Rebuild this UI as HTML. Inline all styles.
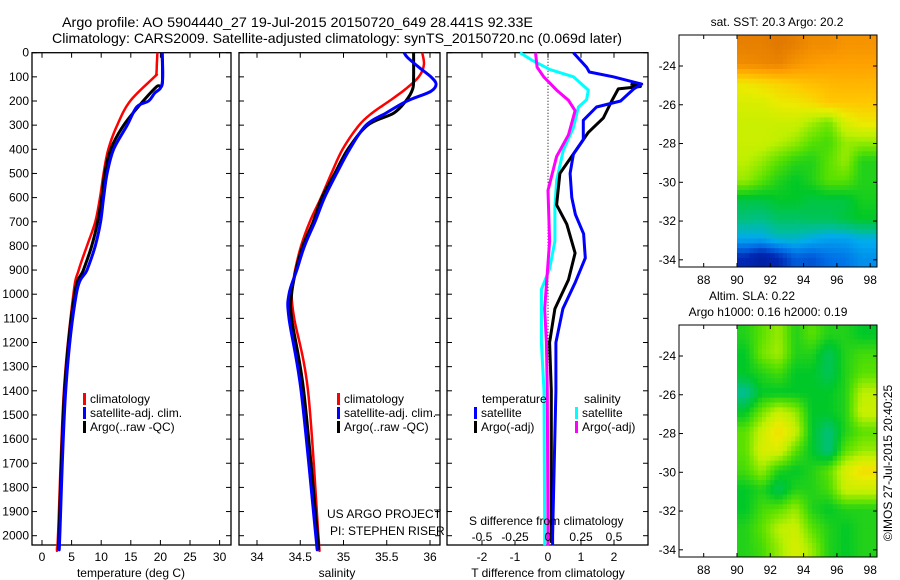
<!DOCTYPE html>
<html><head><meta charset="utf-8">
<style>
html,body{margin:0;padding:0;background:#fff;}
svg{display:block;font-family:"Liberation Sans",Arial,sans-serif;}
text{fill:#000;}
</style></head>
<body>
<svg id="fig" width="900" height="580" viewBox="0 0 900 580" xmlns="http://www.w3.org/2000/svg">
<text x="62" y="27" font-size="14" textLength="471" lengthAdjust="spacingAndGlyphs">Argo profile: AO 5904440_27 19-Jul-2015 20150720_649 28.441S 92.33E</text>
<text x="52" y="43" font-size="14" textLength="570" lengthAdjust="spacingAndGlyphs">Climatology: CARS2009. Satellite-adjusted climatology: synTS_20150720.nc (0.069d later)</text>
<g id="layer"></g>
</svg>
<script>
// ---------- data ----------
const depthTicks = [0,100,200,300,400,500,600,700,800,900,1000,1100,1200,1300,1400,1500,1600,1700,1800,1900,2000];
const tempTicks = [0,5,10,15,20,25,30];
const salTicks = [34,34.5,35,35.5,36];
const diffTTicks = [-2,-1,0,1,2];
const diffSTicks = [-0.5,-0.25,0,0.25,0.5];
const lonTicks = [88,90,92,94,96,98];
const latTicks = [-24,-26,-28,-30,-32,-34];

const tempClimDepth = [0,50,90,100,200,300,400,500,600,700,800,900,1000,1400,2000,2050];
const tempClim = [19.5,19.4,19.3,19.0,14.9,12.7,11.2,10.4,9.8,9.0,7.6,6.2,5.3,3.7,2.7,2.5];
const tempSatDepth = [0,129,168,200,225,300,400,500,600,700,800,900,1000,1400,2000,2040];
const tempSat = [20.3,20.3,19.0,18.0,16.0,14.4,12.1,11.0,10.4,9.9,9.0,7.6,5.8,4.0,3.0,2.95];
const tempArgoDepth = [0,130,140,200,300,400,500,600,700,800,900,1000,1400,2000,2030];
const tempArgo = [20.3,20.3,19.4,17.1,13.8,11.6,10.6,10.1,9.4,8.4,7.0,5.5,3.8,2.85,2.8];

const salClimDepth = [0,50,100,150,200,250,300,400,500,600,700,800,900,950,1000,1100,1400,2000,2050];
const salClim = [35.91,35.93,35.87,35.72,35.53,35.33,35.18,34.99,34.86,34.74,34.61,34.51,34.44,34.42,34.40,34.43,34.59,34.71,34.72];
const salSatDepth = [0,20,60,100,130,160,190,210,250,300,400,500,600,700,800,900,1000,1100,1400,2000,2040];
const salSat = [35.70,35.74,35.87,36.01,36.07,36.01,35.80,35.68,35.49,35.26,35.07,34.92,34.78,34.67,34.55,34.46,34.37,34.37,34.51,34.68,34.69];
const salArgoDepth = [0,100,150,200,250,300,400,500,600,700,800,900,1000,1100,1400,2000,2030];
const salArgo = [35.81,35.81,35.80,35.72,35.58,35.28,35.05,34.90,34.75,34.65,34.53,34.45,34.40,34.40,34.54,34.70,34.70];

const dTSatDepth = [0,60,80,100,130,150,200,225,280,360,420,500,600,670,750,850,950,1060,1200,1400,2000,2040];
const dTSat = [0.77,1.17,1.25,1.98,2.84,2.6,2.2,1.47,1.07,1.07,0.77,0.67,0.72,0.83,1.08,1.13,0.83,0.45,0.24,0.24,0.14,0.14];
const dTArgoDepth = [130,140,150,200,270,330,380,500,630,710,830,940,1060,1200,1400,2000,2030];
const dTArgo = [2.5,2.8,2.13,1.93,1.68,1.22,0.97,0.36,0.26,0.57,0.82,0.62,0.21,0.05,0.1,0.1,0.1];
const dSSatDepth = [0,30,70,100,155,195,225,310,405,530,640,780,895,980,1200,1400,2000,2040];
const dSSat = [-0.85,-0.5,0.06,0.77,1.22,1.17,0.92,0.77,0.46,0.26,0.21,0.21,0.05,-0.2,-0.2,-0.12,-0.1,-0.1];
const dSArgoDepth = [0,60,100,155,197,240,340,430,570,780,1060,1200,1400,2000,2040];
const dSArgo = [-0.38,-0.33,-0.13,0.26,0.62,0.82,0.62,0.26,0.0,0.05,-0.1,-0.05,-0.02,0.0,0.0];

const sstGrid = [
 [0.88,0.88,0.9,0.88,0.85,0.85,0.83,0.83],
 [0.85,0.86,0.87,0.83,0.81,0.8,0.8,0.8],
 [0.66,0.68,0.7,0.72,0.74,0.75,0.76,0.76],
 [0.62,0.62,0.65,0.66,0.68,0.72,0.72,0.72],
 [0.6,0.6,0.6,0.6,0.56,0.52,0.62,0.66],
 [0.6,0.6,0.58,0.55,0.5,0.48,0.55,0.55],
 [0.58,0.55,0.5,0.46,0.45,0.5,0.55,0.45],
 [0.55,0.5,0.45,0.42,0.45,0.5,0.5,0.45],
 [0.4,0.4,0.42,0.42,0.4,0.4,0.4,0.44],
 [0.35,0.34,0.37,0.37,0.38,0.38,0.4,0.42],
 [0.27,0.27,0.3,0.3,0.28,0.26,0.26,0.28],
 [0.12,0.07,0.12,0.18,0.17,0.2,0.21,0.24]
];
const slaGrid = [
 [0.45,0.5,0.55,0.45,0.5,0.45,0.45,0.42],
 [0.42,0.52,0.56,0.45,0.45,0.38,0.45,0.48],
 [0.42,0.45,0.48,0.42,0.42,0.38,0.45,0.5],
 [0.33,0.42,0.42,0.42,0.42,0.42,0.45,0.58],
 [0.42,0.52,0.6,0.55,0.42,0.42,0.45,0.6],
 [0.5,0.6,0.68,0.6,0.42,0.35,0.45,0.5],
 [0.5,0.62,0.62,0.5,0.42,0.35,0.5,0.55],
 [0.48,0.55,0.45,0.42,0.45,0.5,0.62,0.68],
 [0.42,0.45,0.38,0.45,0.45,0.48,0.6,0.6],
 [0.42,0.48,0.5,0.55,0.45,0.42,0.45,0.45],
 [0.45,0.5,0.58,0.6,0.5,0.45,0.42,0.45],
 [0.45,0.48,0.55,0.62,0.55,0.45,0.42,0.45]
];

// ---------- drawing ----------
const NS='http://www.w3.org/2000/svg';
const L=document.getElementById('layer');
function mk(tag,attrs,parent){const e=document.createElementNS(NS,tag);for(const k in attrs)e.setAttribute(k,attrs[k]);(parent||L).appendChild(e);return e;}
function txt(x,y,s,anchor,size){const t=mk('text',{x:x,y:y,'font-size':size||12,'text-anchor':anchor||'start'});t.textContent=s;return t;}

const TOP=52.7, BOT=545;
const yD=d=>TOP+d*0.2415;
const panels=[
 {name:'temperature-panel',x0:32,x1:231,fx:v=>42+5.92*v},
 {name:'salinity-panel',x0:239,x1:440,fx:v=>257+86.5*(v-34)},
 {name:'difference-panel',x0:447,x1:648,fx:v=>548+33*v}
];
panels.forEach((p,i)=>{
 const g=mk('g',{});
 
 
 const r=mk('rect',{x:p.x0,y:TOP,width:p.x1-p.x0,height:BOT-TOP,fill:'none',stroke:'#000','stroke-width':1.3},g);
 
 
 depthTicks.forEach(d=>{
  const y=yD(d);
  mk('line',{x1:p.x0,x2:p.x0+5,y1:y,y2:y,stroke:'#000'},g);
  mk('line',{x1:p.x1,x2:p.x1-5,y1:y,y2:y,stroke:'#000'},g);
 });
 p.g=g;
});
depthTicks.forEach(d=>{const t=txt(29,yD(d)+4,String(d),'end',12);
 
 });

function xticks(p,ticks,fx,ylab){
 ticks.forEach((v,i)=>{const x=fx(v);
  mk('line',{x1:x,x2:x,y1:TOP,y2:TOP+5,stroke:'#000'},p.g);
  mk('line',{x1:x,x2:x,y1:BOT,y2:BOT-5,stroke:'#000'},p.g);
  const t=txt(x,ylab,String(v),'middle',12);
  
  
 });
}
xticks(panels[0],tempTicks,panels[0].fx,561);
xticks(panels[1],salTicks,panels[1].fx,561);
xticks(panels[2],diffTTicks,panels[2].fx,561);
diffSTicks.forEach(v=>{const x=panels[2].fx(v*4);const t=txt(x,541,String(v),'middle',12);
 
 });

function line(p,ds,vs,color,w,name,smooth){
 const P=ds.map((d,i)=>[p.fx(vs[i]),yD(d)]);
 let dstr='M'+P[0][0].toFixed(1)+','+P[0][1].toFixed(1);
 for(let i=0;i<P.length-1;i++){
  if(smooth){
   const p0=P[Math.max(0,i-1)],p1=P[i],p2=P[i+1],p3=P[Math.min(P.length-1,i+2)];
   const c1=[p1[0]+(p2[0]-p0[0])/6,p1[1]+(p2[1]-p0[1])/6];
   const c2=[p2[0]-(p3[0]-p1[0])/6,p2[1]-(p3[1]-p1[1])/6];
   dstr+=' C'+c1.map(v=>v.toFixed(1)).join(',')+' '+c2.map(v=>v.toFixed(1)).join(',')+' '+p2[0].toFixed(1)+','+p2[1].toFixed(1);
  } else dstr+=' L'+P[i+1][0].toFixed(1)+','+P[i+1][1].toFixed(1);
 }
 const e=mk('path',{d:dstr,fill:'none',stroke:color,'stroke-width':w,'stroke-linejoin':'round'},p.g);
 
 
}
line(panels[0],tempClimDepth,tempClim,'#f00',2.5,'temp-climatology-line',true);
line(panels[0],tempArgoDepth,tempArgo,'#000',3,'temp-argo-line',true);
line(panels[0],tempSatDepth,tempSat,'#00f',3,'temp-satellite-line',true);
line(panels[1],salClimDepth,salClim,'#f00',2.5,'sal-climatology-line',true);
line(panels[1],salArgoDepth,salArgo,'#000',3,'sal-argo-line',true);
line(panels[1],salSatDepth,salSat,'#00f',3,'sal-satellite-line',true);
const zl=mk('line',{x1:548,x2:548,y1:TOP,y2:BOT,stroke:'#000','stroke-dasharray':'1,2'},panels[2].g);


line(panels[2],dSSatDepth,dSSat,'#0ff',3,'s-diff-satellite-line',false);
line(panels[2],dSArgoDepth,dSArgo,'#f0f',3,'s-diff-argo-line',false);
line(panels[2],dTArgoDepth,dTArgo,'#000',3,'t-diff-argo-line',false);
line(panels[2],dTSatDepth,dTSat,'#00f',3,'t-diff-satellite-line',false);

function leg(x,y,color,label,name){
 const g=mk('g',{});
 
 
 mk('rect',{x:x,y:y-10,width:3,height:12,fill:color},g);
 const t=mk('text',{x:x+7,y:y,'font-size':12},g);t.textContent=label;
}
leg(83,403,'#f00','climatology','legend-climatology');
leg(83,417,'#00f','satellite-adj. clim.','legend-satellite');
leg(83,431,'#000','Argo(..raw -QC)','legend-argo');
leg(337,403,'#f00','climatology','legend-sal-climatology');
leg(337,417,'#00f','satellite-adj. clim.','legend-sal-satellite');
leg(337,431,'#000','Argo(..raw -QC)','legend-sal-argo');
txt(482,403,'temperature','start',12);
txt(584,403,'salinity','start',12);
leg(474,417,'#00f','satellite','legend-tdiff-satellite');
leg(474,431,'#000','Argo(-adj)','legend-tdiff-argo');
leg(575,417,'#0ff','satellite','legend-sdiff-satellite');
leg(575,431,'#f0f','Argo(-adj)','legend-sdiff-argo');
txt(327,518,'US ARGO PROJECT','start',12);
txt(330,535,'PI: STEPHEN RISER','start',12);
txt(469,525,'S difference from climatology','start',12);
txt(131,577,'temperature (deg C)','middle',12);
txt(337,577,'salinity','middle',12);
txt(548,577,'T difference from climatology','middle',12);

// maps
const stops=[[0,[0,20,140]],[0.12,[0,40,180]],[0.2,[0,110,230]],[0.27,[0,170,240]],[0.33,[0,190,150]],[0.42,[0,200,40]],[0.5,[90,225,0]],[0.58,[190,240,0]],[0.65,[235,235,0]],[0.72,[255,200,0]],[0.8,[255,160,0]],[0.9,[225,120,0]],[1,[200,90,0]]];
function cmap(v){for(let i=1;i<stops.length;i++){if(v<=stops[i][0]){const a=stops[i-1],b=stops[i],t=(v-a[0])/(b[0]-a[0]);const c=a[1].map((x,k)=>Math.round(x+(b[1][k]-x)*t));return 'rgb('+c.join(',')+')';}}return 'rgb(200,90,0)';}
function sample(grid,fr,fc){
 const R=grid.length,C=grid[0].length;
 fr=Math.max(0,Math.min(R-1,fr));fc=Math.max(0,Math.min(C-1,fc));
 const r0=Math.floor(fr),c0=Math.floor(fc),r1=Math.min(R-1,r0+1),c1=Math.min(C-1,c0+1);
 const tr=fr-r0,tc=fc-c0;
 return (grid[r0][c0]*(1-tc)+grid[r0][c1]*tc)*(1-tr)+(grid[r1][c0]*(1-tc)+grid[r1][c1]*tc)*tr;
}
const MX0=679,MX1=877;
const lonX=lon=>737+16.65*(lon-90);
function drawMap(top,grid,name){
 const g=mk('g',{});
 
 
 const latY=lat=>top+(-22.4-lat)*19.38;
 const step=0.25;
 for(let lat=-22.4;lat>-34.4-1e-6;lat-=step){
  for(let lon=90;lon<98.4-1e-6;lon+=step){
   const fr=(-22.4-(lat-step/2))-0.5, fc=(lon+step/2-90)-0.5;
   const v=sample(grid,fr,fc);
   const x=lonX(lon),y=latY(lat);
   const w=Math.min(lonX(lon+step),MX1)-x, h=Math.min(latY(lat-step),top+232)-y;
   const cell=mk('rect',{x:x.toFixed(2),y:y.toFixed(2),width:(w+0.4).toFixed(2),height:(h+0.4).toFixed(2),fill:cmap(v)},g);
   
   
  }
 }
 mk('rect',{x:MX0,y:top,width:MX1-MX0,height:232,fill:'none',stroke:'#000'},g);
 lonTicks.forEach(l=>{const x=lonX(l);
  mk('line',{x1:x,x2:x,y1:top,y2:top+4,stroke:'#000'},g);
  mk('line',{x1:x,x2:x,y1:top+232,y2:top+228,stroke:'#000'},g);
  const t=txt(x,top+249,String(l),'middle',12);
  
  });
 latTicks.forEach(l=>{const y=latY(l);
  mk('line',{x1:MX0,x2:MX0+4,y1:y,y2:y,stroke:'#000'},g);
  mk('line',{x1:MX1,x2:MX1-4,y1:y,y2:y,stroke:'#000'},g);
  const t=txt(676,y+4,String(l),'end',12);
  
  });
}
drawMap(35,sstGrid,'sst-map');
drawMap(325,slaGrid,'sla-map');
txt(777,26,'sat. SST: 20.3 Argo: 20.2','middle',12);
txt(752,300,'Altim. SLA: 0.22','middle',12);
txt(768,316,'Argo h1000: 0.16 h2000: 0.19','middle',12);
const cr=txt(0,0,'\u00a9IMOS 27-Jul-2015 20:40:25','middle',12);
cr.setAttribute('transform','translate(892,463) rotate(-90)');


</script>
</body></html>
